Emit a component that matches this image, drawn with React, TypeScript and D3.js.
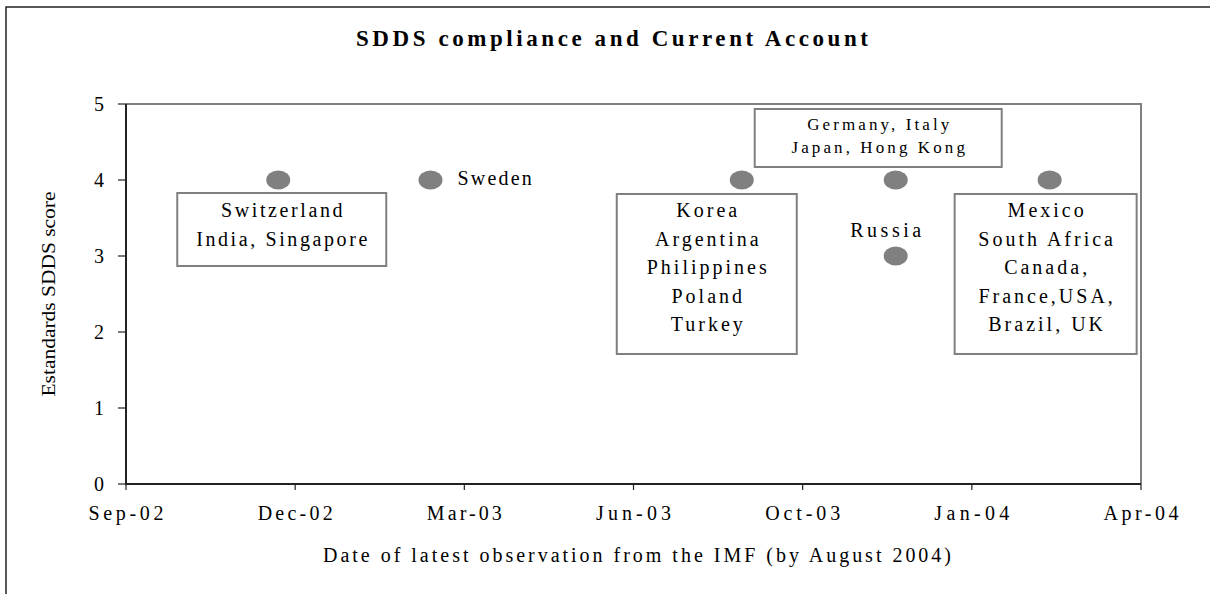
import * as d3 from 'd3';

// observation dates (latest IMF SDDS observation) and scores
const obsDates = ['2002-11-30', '2003-02-28', '2003-08-31', '2003-11-30', '2003-11-30', '2004-02-29'];
const scores = [4, 4, 4, 4, 3, 4];

// country groups attached to each point
const groupLabels = [
  ['Switzerland', 'India, Singapore'],
  ['Sweden'],
  ['Korea', 'Argentina', 'Philippines', 'Poland', 'Turkey'],
  ['Germany, Italy', 'Japan, Hong Kong'],
  ['Russia'],
  ['Mexico', 'South Africa', 'Canada,', 'France,USA,', 'Brazil, UK'],
];

const xTickDates = ['2002-09-01', '2002-12-10', '2003-03-20', '2003-06-28', '2003-10-06', '2004-01-14', '2004-04-23'];
const xTickLabels = ['Sep-02', 'Dec-02', 'Mar-03', 'Jun-03', 'Oct-03', 'Jan-04', 'Apr-04'];
const yTicks = [0, 1, 2, 3, 4, 5];

const TITLE = 'SDDS compliance and Current Account';
const X_TITLE = 'Date of latest observation from the IMF (by August 2004)';
const Y_TITLE = 'Estandards SDDS score';

const W = 1210;
const H = 594;
const PLOT = { left: 126, right: 1141, top: 104, bottom: 484 };
const FONT = "'Times New Roman', 'Liberation Serif', serif";
const GREY = '#808080';

// how each label sits relative to its point (box = bordered text box, plain = free text)
const LABEL_LAYOUT = [
  { kind: 'box', dx: 3.5, w: 209, top: 13, h: 73, first: 37, step: 29, size: 20, spacing: 2.6 },
  { kind: 'plain', anchor: 'start', dx: 27, first: 5, step: 0, size: 20, spacing: 2.2 },
  { kind: 'box', dx: -35, w: 180, top: 14, h: 160, first: 37, step: 28.5, size: 20, spacing: 3 },
  { kind: 'box', dx: -17.5, w: 247, top: -71, h: 58, first: -50, step: 22.5, size: 17, spacing: 3.1 },
  { kind: 'plain', anchor: 'middle', dx: -10, first: -19, step: 0, size: 20, spacing: 3.5 },
  { kind: 'box', dx: -4, w: 182, top: 14, h: 160, first: 37, step: 28.5, size: 20, spacing: 3 },
];

const parse = d3.utcParse('%Y-%m-%d');

export default function App() {
  const x = d3
    .scaleUtc()
    .domain([parse(xTickDates[0])!, parse(xTickDates[xTickDates.length - 1])!])
    .range([PLOT.left, PLOT.right]);
  const y = d3.scaleLinear().domain([0, 5]).range([PLOT.bottom, PLOT.top]);

  const points = obsDates.map((d, i) => ({
    cx: x(parse(d)!),
    cy: y(scores[i]),
    lines: groupLabels[i],
    layout: LABEL_LAYOUT[i],
  }));

  return (
    <svg
      width={W}
      height={H}
      style={{ position: 'absolute', left: 0, top: 0, background: '#fff' }}
      fontFamily={FONT}
    >
      <rect x={0} y={0} width={W} height={H} fill="#fff" />
      {/* outer chart frame (cut off at right and bottom) */}
      <path d={`M6,${H + 5} V7 H${W + 5}`} fill="none" stroke="#222" strokeWidth={1.5} />

      {/* title */}
      <text x={612} y={46} textAnchor="middle" fontSize={23} fontWeight="bold" textLength={512} lengthAdjust="spacing">
        {TITLE}
      </text>

      {/* plot frame: grey top/right */}
      <path
        d={`M${PLOT.left},${PLOT.top} H${PLOT.right} V${PLOT.bottom}`}
        fill="none"
        stroke={GREY}
        strokeWidth={2}
      />

      {/* y axis */}
      <line x1={PLOT.left} x2={PLOT.left} y1={PLOT.top} y2={PLOT.bottom} stroke="#222" strokeWidth={2} />
      {yTicks.map((t) => (
        <g key={t}>
          <line x1={PLOT.left - 8} x2={PLOT.left} y1={y(t)} y2={y(t)} stroke="#222" strokeWidth={1.2} />
          <text x={104} y={y(t) + 6.5} textAnchor="end" fontSize={20}>
            {t}
          </text>
        </g>
      ))}

      {/* x axis */}
      <line x1={PLOT.left - 1} x2={PLOT.right} y1={PLOT.bottom} y2={PLOT.bottom} stroke="#222" strokeWidth={2} />
      {xTickDates.map((d, i) => {
        const tx = x(parse(d)!);
        return (
          <g key={d}>
            <line x1={tx} x2={tx} y1={PLOT.bottom} y2={PLOT.bottom + 6} stroke="#222" strokeWidth={1.2} />
            <text x={tx} y={PLOT.bottom + 36} textAnchor="middle" fontSize={20} textLength={75} lengthAdjust="spacing">
              {xTickLabels[i]}
            </text>
          </g>
        );
      })}

      {/* axis titles */}
      <text x={637} y={562} textAnchor="middle" fontSize={20} textLength={628} lengthAdjust="spacing">
        {X_TITLE}
      </text>
      <text
        transform={`translate(55,${(PLOT.top + PLOT.bottom) / 2}) rotate(-90)`}
        textAnchor="middle"
        fontSize={19}
        textLength={205}
        lengthAdjust="spacingAndGlyphs"
      >
        {Y_TITLE}
      </text>

      {/* label boxes and labels */}
      {points.map((p, i) => {
        const L = p.layout;
        if (L.kind === 'box') {
          const bx = p.cx + L.dx - L.w / 2;
          const by = p.cy + L.top;
          return (
            <g key={`lab-${i}`}>
              <rect x={bx} y={by} width={L.w} height={L.h} fill="#fff" stroke={GREY} strokeWidth={2} />
              {p.lines.map((line, j) => (
                <text
                  key={j}
                  x={p.cx + L.dx + L.spacing / 2}
                  y={p.cy + L.first + j * L.step}
                  textAnchor="middle"
                  fontSize={L.size}
                  letterSpacing={L.spacing}
                >
                  {line}
                </text>
              ))}
            </g>
          );
        }
        return (
          <text
            key={`lab-${i}`}
            x={p.cx + L.dx + (L.anchor === 'middle' ? L.spacing / 2 : 0)}
            y={p.cy + L.first}
            textAnchor={L.anchor}
            fontSize={L.size}
            letterSpacing={L.spacing}
          >
            {p.lines[0]}
          </text>
        );
      })}

      {/* markers */}
      {points.map((p, i) => (
        <ellipse key={`pt-${i}`} cx={p.cx} cy={p.cy} rx={12} ry={9.5} fill={GREY} />
      ))}
    </svg>
  );
}
